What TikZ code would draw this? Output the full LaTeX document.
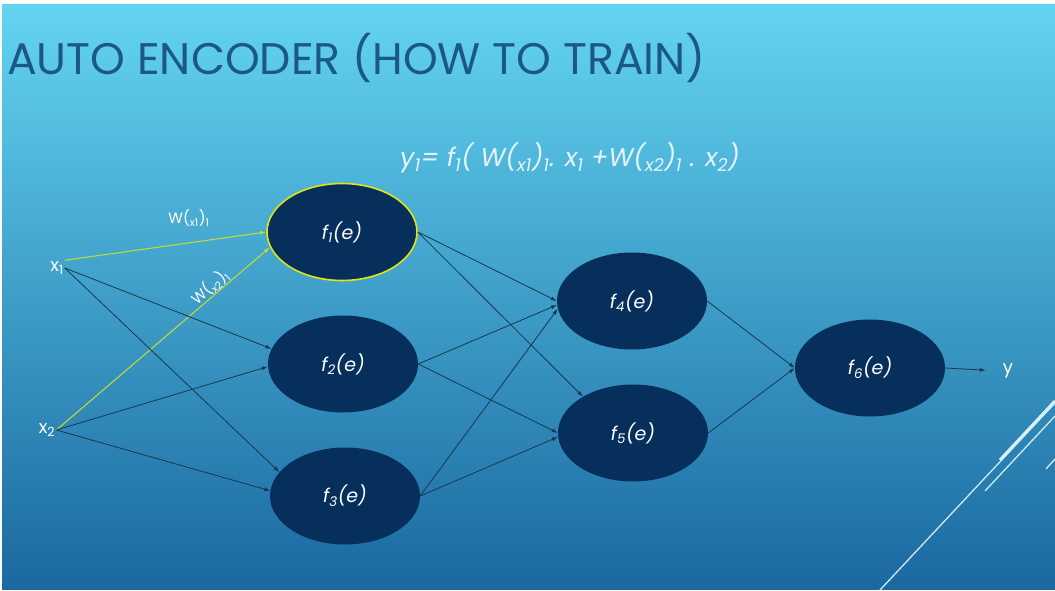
\documentclass[tikz,border=0pt]{standalone}
\usepackage{fontspec}
\setmainfont{Poppins}
\usetikzlibrary{shapes.geometric,arrows.meta}
\definecolor{bgtop}{HTML}{63D4F1}
\definecolor{bgbot}{HTML}{1A68A0}
\definecolor{navy}{HTML}{062F5C}
\definecolor{titleblue}{HTML}{1C5887}
\definecolor{edge}{HTML}{17384F}
\definecolor{hl}{HTML}{C2D83A}
\definecolor{ring}{HTML}{E2E21A}
\definecolor{eqc}{HTML}{E4F4FA}
\definecolor{decoc}{HTML}{CDEBF6}
\begin{document}
\begin{tikzpicture}[x=1pt,y=-1pt,
  neuron/.style={ellipse,fill=navy,minimum width=150pt,minimum height=97pt,inner sep=0pt,text=white,font=\fontsize{19}{22}\selectfont\itshape},
  lbl/.style={text=white,font=\fontsize{18}{20}\selectfont,inner sep=1pt},
  wlbl/.style={text=white,font=\fontsize{15}{17}\selectfont,inner sep=0pt},
  conn/.style={draw=edge,line width=0.8pt,-{Latex[length=6pt,width=4pt]}},
  hconn/.style={draw=hl,line width=1.1pt,-{Latex[length=6pt,width=4pt]}},
  deco/.style={draw=decoc,line width=1.3pt}]
\useasboundingbox (0,0) rectangle (1055,591);
\fill[white] (0,0) rectangle (1055,591);
\shade[top color=bgtop,bottom color=bgbot] (2,5) rectangle (1055,589);
% decorative lines
\draw[deco] (880,590) -- (1055,403);
\draw[deco,line width=3pt,draw=decoc!80!white] (1000,460) -- (1055,401);
\draw[deco] (985,491) -- (1055,416);
\draw[deco] (1046,469) -- (1055,459);
% title
\node[anchor=base west,inner sep=0pt,text=titleblue,font=\fontsize{44.2}{48}\selectfont] (title) at (7,75) {AUTO ENCODER (HOW TO TRAIN)};
% equation
\node[anchor=base west,inner sep=0pt,text=eqc,font=\fontsize{25.5}{28}\selectfont\itshape] (eq) at (400,167)
 {y\textsubscript{1}= f\textsubscript{1}( W(\textsubscript{x1})\textsubscript{1}. x\textsubscript{1} +W(\textsubscript{x2})\textsubscript{1} . x\textsubscript{2})};
% neurons
\node[neuron,draw=ring,line width=1.6pt] (f1) at (342,232) {f\textsubscript{1}(e)};
\node[neuron] (f2) at (343,364) {f\textsubscript{2}(e)};
\node[neuron] (f3) at (345,496) {f\textsubscript{3}(e)};
\node[neuron] (f4) at (632,301) {f\textsubscript{4}(e)};
\node[neuron] (f5) at (633,433) {f\textsubscript{5}(e)};
\node[neuron] (f6) at (870,368) {f\textsubscript{6}(e)};
% inputs / output
\node[lbl] (x1) at (57,268) {x\textsubscript{1}};
\node[lbl] (x2) at (47,430) {x\textsubscript{2}};
\node[lbl] (y) at (1008,371) {y};
% weight labels
\node[wlbl] (w1) at (189,218) {W(\textsubscript{x1})\textsubscript{1}};
\node[wlbl,rotate=42] (w2) at (210,287) {W(\textsubscript{x2})\textsubscript{1}};
% connectors input layer
\draw[hconn] (x1.north east) -- (f1.west);
\draw[hconn] (x2.east) -- (f1.192);
\draw[conn] (x1.east) -- (f2.168);
\draw[conn] (x1.east) -- (f3.160);
\draw[conn] (x2.east) -- (f2.182);
\draw[conn] (x2.east) -- (f3.176);
% hidden layer
\draw[conn] (f1.east) -- (f4.west);
\draw[conn] (f1.east) -- (f5.144);
\draw[conn] (f2.east) -- (f4.183);
\draw[conn] (f2.east) -- (f5.west);
\draw[conn] (f3.east) -- (f4.186);
\draw[conn] (f3.east) -- (f5.183);
% output layer
\draw[conn] (f4.east) -- (f6.west);
\draw[conn] (f5.east) -- (f6.west);
\draw[conn,shorten >=16pt] (f6.east) -- (y.west);
\end{tikzpicture}
\end{document}
